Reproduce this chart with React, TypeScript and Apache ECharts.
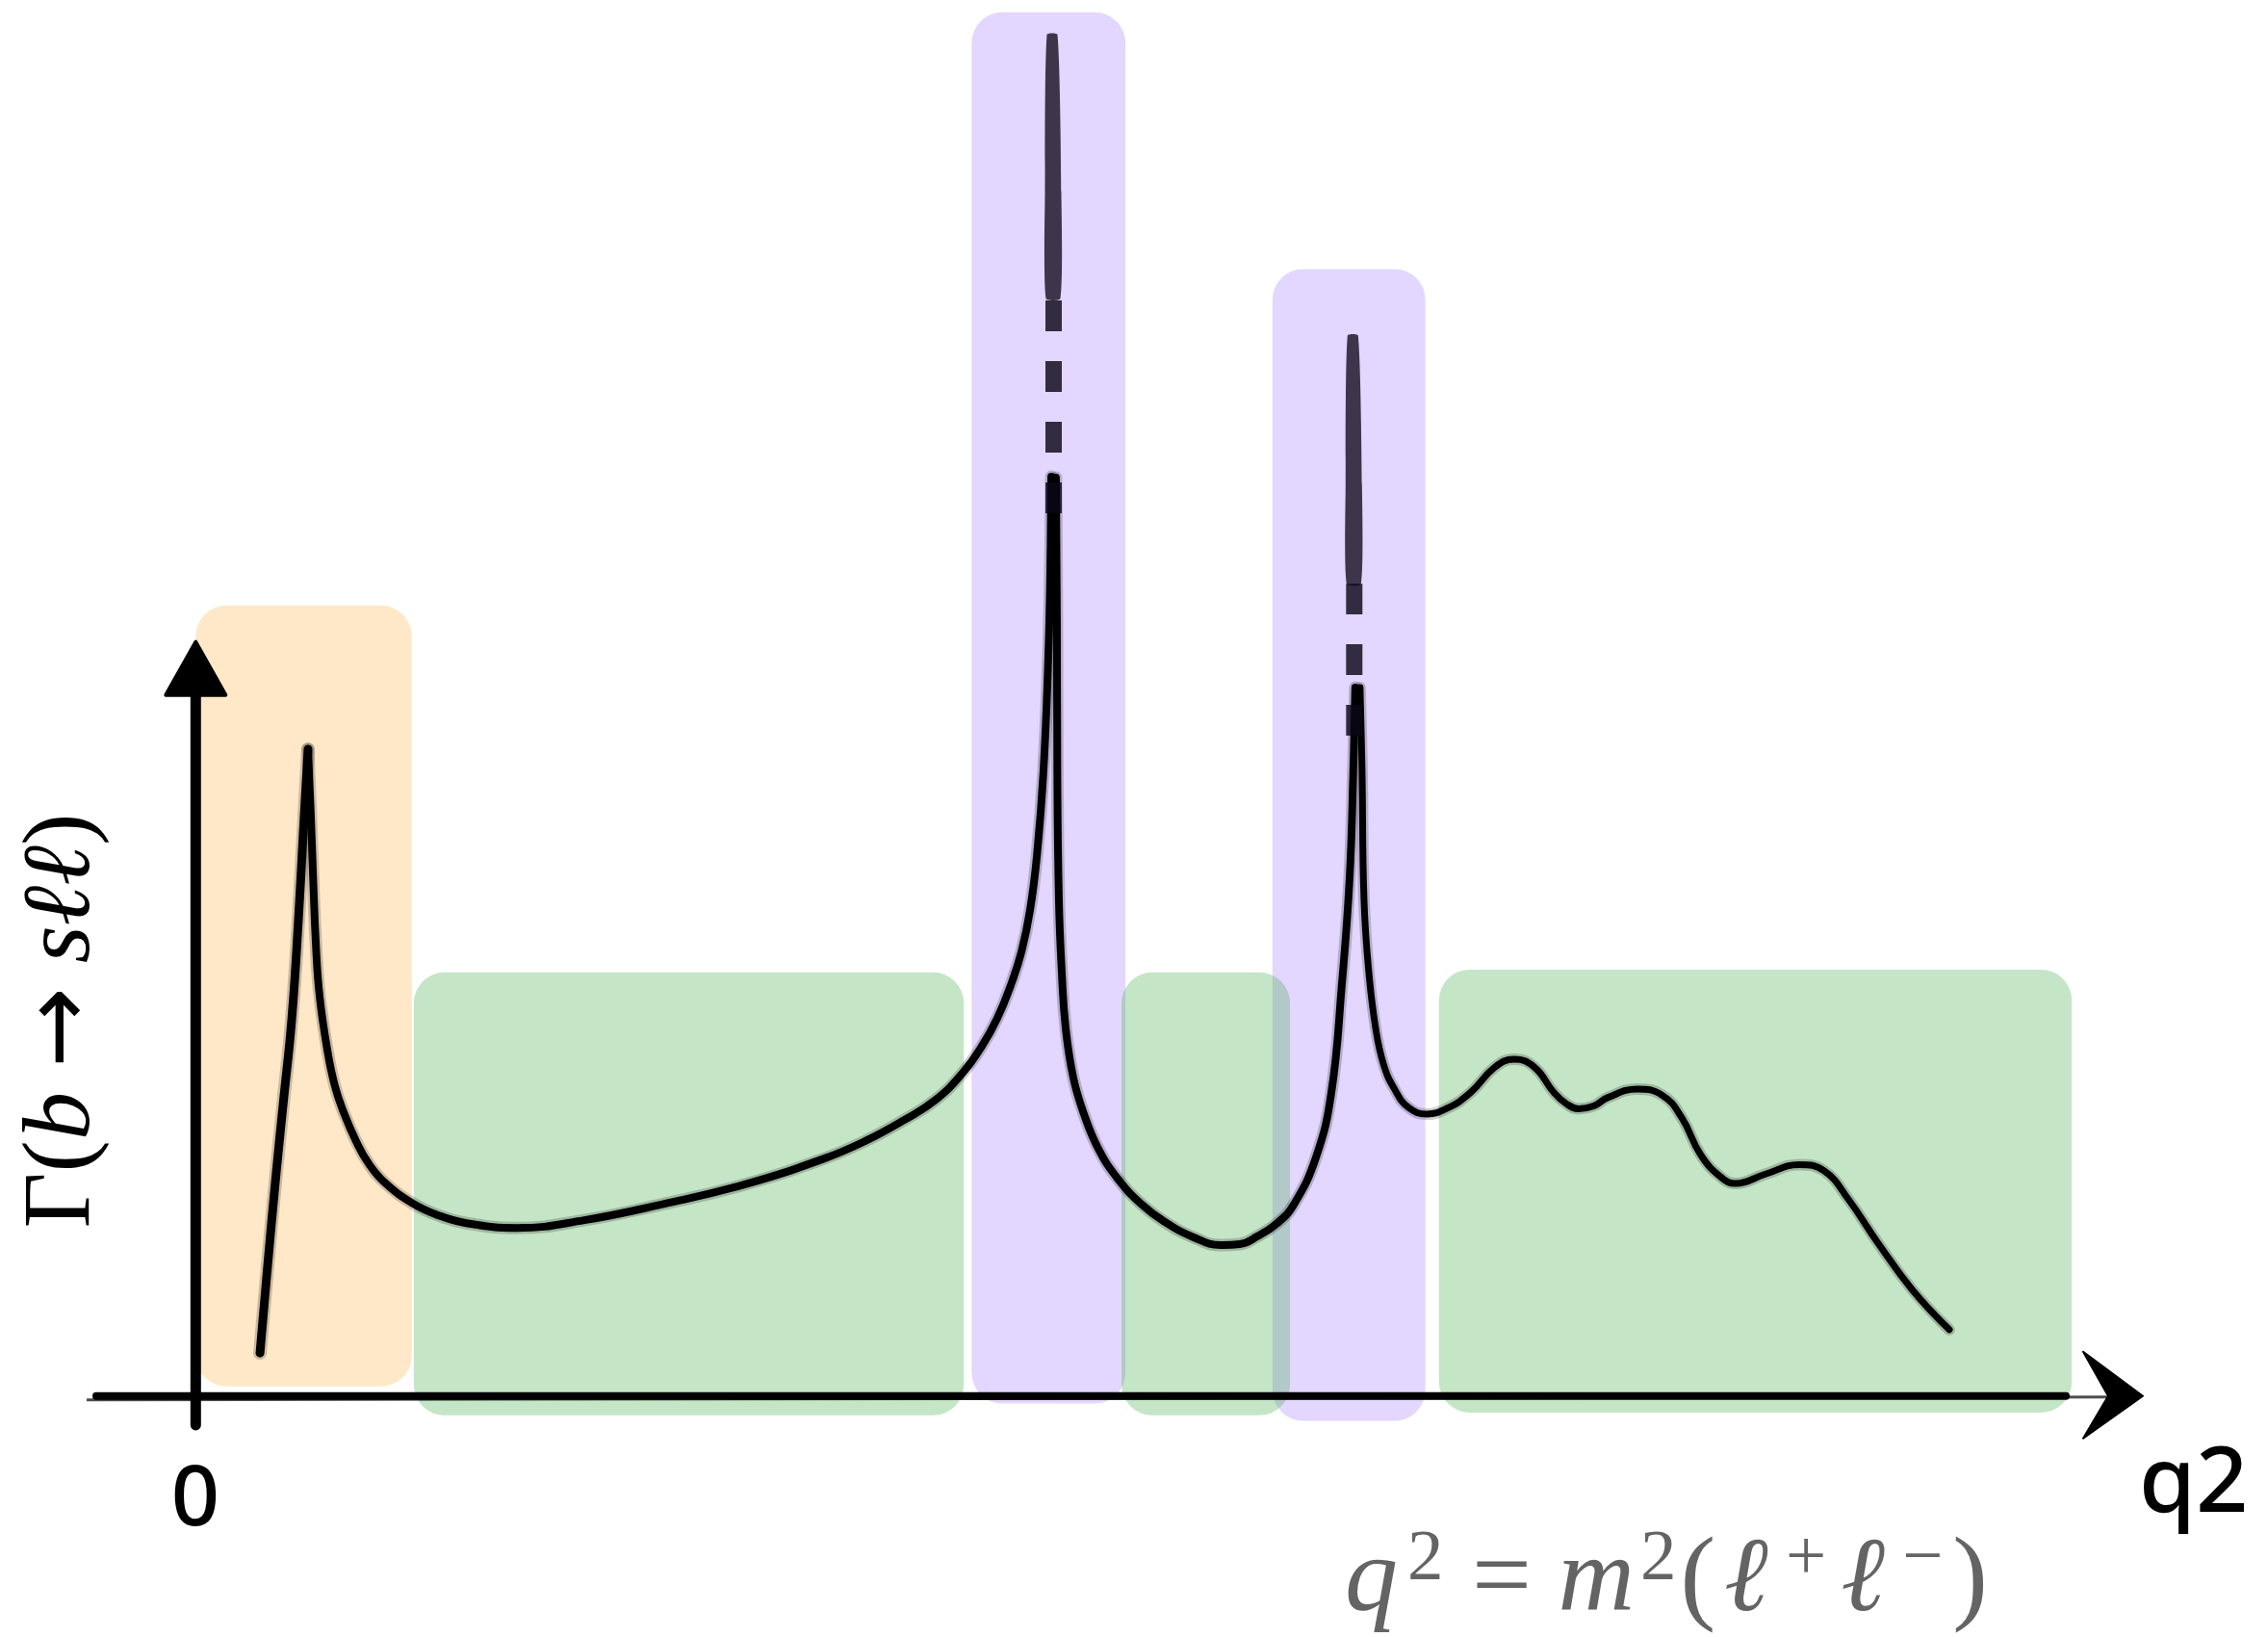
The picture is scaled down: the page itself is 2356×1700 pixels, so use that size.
import React, { useEffect, useRef } from "react";
import * as echarts from "echarts";

// Horizontal scale: q² in arbitrary units (0 on the vertical axis, 100 at the arrow tip).
// Vertical scale: differential rate in arbitrary units (0 on the horizontal axis).

// The rate curve, drawn as separate brush strokes that meet at the cusps.
const strokeRise: [number, number][] = [
  [3.3, 3.1], [3.7, 9.5], [4.1, 15.6], [4.5, 21.2], [4.93, 27.17], [5.27, 34.26], [5.52, 40.6], [5.77, 46.72],
];
const strokeToFirstResonance: [number, number][] = [
  [5.77, 46.72], [5.92, 41.71], [6.02, 37.82], [6.17, 32.67], [6.36, 28.92], [6.76, 25.0], [7.15, 22.37],
  [7.6, 20.48], [8.24, 18.39], [8.88, 16.79], [9.72, 15.4], [11.16, 13.9], [12.44, 13.06], [13.84, 12.5],
  [16.5, 12.14], [19.96, 12.7], [24.07, 13.88], [28.17, 15.27], [32.28, 17.15], [34.44, 18.45],
  [36.38, 19.93], [38.0, 21.39], [39.39, 23.34], [40.38, 25.28], [41.17, 27.3], [41.86, 29.67],
  [42.41, 32.1], [42.85, 35.1], [43.2, 39.0], [43.54, 45.19], [43.79, 53.53], [43.89, 59.8], [43.94, 66.4],
];
const strokeToSecondResonance: [number, number][] = [
  [44.18, 66.33], [44.23, 55.62], [44.25, 45.19], [44.33, 35.87], [44.48, 30.58], [44.68, 26.55],
  [45.07, 23.0], [45.62, 20.35], [46.36, 17.85], [47.35, 15.7], [48.54, 13.89], [49.77, 12.57],
  [51.25, 11.46], [52.63, 10.9], [53.62, 10.97], [54.51, 11.52], [55.55, 12.49], [56.39, 13.81],
  [57.53, 17.22], [58.32, 21.88], [58.86, 29.67], [59.26, 37.39], [59.45, 45.19], [59.55, 51.17],
];
const strokeTail: [number, number][] = [
  [59.8, 51.17], [59.9, 45.19], [60.0, 35.87], [60.25, 30.58], [60.6, 26.55], [61.0, 23.97],
  [61.54, 22.23], [62.28, 20.84], [63.22, 20.36], [64.3, 20.8], [65.49, 21.94], [66.72, 23.75],
  [67.71, 24.32], [68.75, 23.75], [69.74, 21.94], [70.4, 21.1], [71.02, 20.75], [71.8, 20.95],
  [72.51, 21.55], [74.04, 22.17], [75.33, 21.71], [76.31, 20.12], [77.3, 17.4], [78.34, 15.8],
  [79.08, 15.35], [80.62, 16.03], [82.35, 16.71], [83.63, 16.26], [84.87, 14.22], [86.4, 11.04],
  [88.18, 7.63], [90.06, 4.79],
];
const strokes = [strokeRise, strokeToFirstResonance, strokeToSecondResonance, strokeTail];
const strokeWidths = [9, 8, 8, 7];

// Narrow resonances: position, dashed cut-off segment and faded top.
const resonanceQ2 = [44.06, 59.5];
const resonanceDashFrom = [63.76, 47.7];
const resonanceDashTo = [79.27, 58.67];
const resonanceFadeTo = [98.33, 76.6];

// Shaded q² regions as [q²from, q²to, bottom, top].
const lowZones = [[0, 11.1, 0.7, 57.1]];
const resonanceZones = [
  [39.85, 47.75, -0.55, 99.95],
  [55.3, 63.15, -1.8, 81.4],
];
const smoothZones = [
  [11.2, 39.45, -1.4, 30.6],
  [47.55, 56.2, -1.4, 30.6],
  [63.85, 96.35, -1.2, 30.8],
];

// Axis extents.
const xAxisFrom = -5.6;
const xAxisTo = 100;
const yAxisFrom = -2.1;
const yAxisTo = 54.6;

// Texts.
const originLabel = "0";
const xAxisLabel = "q2";
const yAxisTitle = "{u|Γ(}{i|b}{u| }{a|→}{u| }{i|sℓℓ}{u|)}";
const q2Definition = "{v|q}{s|2}{o| = }{v|m}{t|2}{o|(}{l|ℓ}{p|+}{l|ℓ}{m|−}{o|)}";

const INK = "#000000";
const GREY = "#646464";
const SERIF = "Liberation Serif";

function zoneSeries(data: number[][], fill: string, z: number) {
  return {
    type: "custom",
    data,
    z,
    silent: true,
    clip: false,
    encode: { x: [0, 1], y: [2, 3] },
    renderItem: (_p: any, api: any) => {
      const a = api.coord([api.value(0), api.value(3)]);
      const b = api.coord([api.value(1), api.value(2)]);
      return {
        type: "rect",
        shape: { x: a[0], y: a[1], width: b[0] - a[0], height: b[1] - a[1], r: 32 },
        style: { fill },
      };
    },
  };
}

export default function App() {
  const ref = useRef<HTMLDivElement>(null);

  useEffect(() => {
    if (!ref.current) return;
    const chart = echarts.init(ref.current, undefined, { renderer: "svg" });

    const curveSeries: any[] = [];
    strokes.forEach((s, i) => {
      curveSeries.push({
        type: "line",
        data: s,
        z: 6,
        smooth: 0.45,
        showSymbol: false,
        silent: true,
        clip: false,
        lineStyle: { color: INK, width: strokeWidths[i] + 5, opacity: 0.2, cap: "round", join: "round" },
      });
      curveSeries.push({
        type: "line",
        data: s,
        z: 7,
        smooth: 0.45,
        showSymbol: false,
        silent: true,
        clip: false,
        lineStyle: { color: INK, width: strokeWidths[i], cap: "round", join: "round" },
      });
    });

    const dashSeries = resonanceQ2.map((q, i) => ({
      type: "line",
      data: [
        [q, resonanceDashFrom[i]],
        [q, resonanceDashTo[i]],
      ],
      z: 8,
      showSymbol: false,
      silent: true,
      clip: false,
      lineStyle: { color: "rgba(12,6,22,0.82)", width: 17, type: [32, 31], cap: "butt" },
    }));

    const fadeSeries = {
      type: "custom",
      z: 8,
      silent: true,
      clip: false,
      data: resonanceQ2.map((q, i) => [q, resonanceDashTo[i], resonanceFadeTo[i]]),
      renderItem: (_p: any, api: any) => {
        const b = api.coord([api.value(0), api.value(1)]);
        const t = api.coord([api.value(0), api.value(2)]);
        const midY = b[1] + (t[1] - b[1]) * 0.4;
        const cx = b[0] - 1;
        return {
          type: "polygon",
          shape: {
            points: [
              [cx - 7, b[1]],
              [cx + 8, b[1]],
              [cx + 9, midY],
              [cx + 5, t[1]],
              [cx - 6, t[1]],
              [cx - 8, midY],
            ],
            smooth: 0.2,
          },
          style: { fill: "rgba(20,12,30,0.8)" },
        };
      },
    };

    const axesSeries = {
      type: "custom",
      z: 5,
      silent: true,
      clip: false,
      data: [[0, 0]],
      renderItem: (_p: any, api: any) => {
        const xs = api.coord([xAxisFrom, 0]);
        const xe = api.coord([xAxisTo, 0]);
        const yb = api.coord([0, yAxisFrom]);
        const yt = api.coord([0, yAxisTo]);
        return {
          type: "group",
          children: [
            {
              type: "line",
              shape: { x1: xs[0] + 10, y1: xs[1], x2: xe[0] - 80, y2: xe[1] },
              style: { stroke: INK, lineWidth: 8, lineCap: "round" },
            },
            {
              type: "line",
              shape: { x1: xs[0], y1: xs[1] + 4, x2: xe[0] - 12, y2: xe[1] + 1 },
              style: { stroke: INK, lineWidth: 3, opacity: 0.7 },
            },
            {
              type: "line",
              shape: { x1: yb[0], y1: yb[1], x2: yt[0], y2: yt[1] + 50 },
              style: { stroke: INK, lineWidth: 11, lineCap: "round" },
            },
            {
              type: "polygon",
              shape: {
                points: [
                  [yt[0], yt[1] + 2],
                  [yt[0] - 31, yt[1] + 57],
                  [yt[0] + 31, yt[1] + 57],
                ],
              },
              style: { fill: INK, stroke: INK, lineWidth: 4, lineJoin: "round" },
            },
            {
              type: "polygon",
              shape: {
                points: [
                  [xe[0], xe[1]],
                  [xe[0] - 62, xe[1] - 46],
                  [xe[0] - 36, xe[1]],
                  [xe[0] - 62, xe[1] + 44],
                ],
              },
              style: { fill: INK, stroke: INK, lineWidth: 2, lineJoin: "round" },
            },
          ],
        };
      },
    };

    const option: any = {
      animation: false,
      backgroundColor: "#ffffff",
      grid: { left: 203.3, top: 12, width: 2022.7, height: 1437.7, containLabel: false },
      xAxis: { type: "value", min: 0, max: 100, show: false },
      yAxis: { type: "value", min: 0, max: 100, show: false },
      series: [
        zoneSeries(lowZones, "rgba(255,152,0,0.22)", 1),
        zoneSeries(resonanceZones, "rgba(153,102,255,0.27)", 2),
        zoneSeries(smoothZones, "rgba(76,175,80,0.32)", 3),
        axesSeries,
        fadeSeries,
        ...dashSeries,
        ...curveSeries,
      ],
      graphic: [
        {
          type: "text",
          x: 203,
          y: 1550,
          style: {
            text: originLabel,
            fontFamily: "Noto Sans",
            fontWeight: 500,
            fontSize: 88,
            fill: INK,
            align: "center",
            verticalAlign: "middle",
          },
        },
        {
          type: "text",
          x: 2222,
          y: 1533,
          style: {
            text: xAxisLabel,
            fontFamily: "Noto Sans",
            fontWeight: 500,
            fontSize: 95,
            fill: INK,
            align: "left",
            verticalAlign: "middle",
          },
        },
        {
          type: "text",
          x: 1397,
          y: 1577,
          style: {
            text: q2Definition,
            align: "left",
            verticalAlign: "top",
            rich: {
              v: { fontFamily: SERIF, fontStyle: "italic", fontSize: 110, lineHeight: 116, fill: GREY },
              l: { fontFamily: SERIF, fontStyle: "italic", fontSize: 110, lineHeight: 116, fill: GREY, padding: [0, 0, 0, 9] },
              o: { fontFamily: SERIF, fontSize: 110, lineHeight: 116, fill: GREY },
              s: { fontFamily: SERIF, fontSize: 75, lineHeight: 55, verticalAlign: "top", fill: GREY, padding: [0, 2, 0, 10] },
              t: { fontFamily: SERIF, fontSize: 75, lineHeight: 55, verticalAlign: "top", fill: GREY, padding: [0, 4, 0, 6] },
              p: { fontFamily: SERIF, fontSize: 75, lineHeight: 55, verticalAlign: "top", fill: GREY, padding: [0, 6, 0, 18] },
              m: { fontFamily: SERIF, fontSize: 75, lineHeight: 55, verticalAlign: "top", fill: GREY, padding: [0, 10, 0, 18] },
            },
          },
        },
        {
          type: "text",
          x: 58,
          y: 1060,
          rotation: Math.PI / 2,
          style: {
            text: yAxisTitle,
            align: "center",
            verticalAlign: "middle",
            rich: {
              u: { fontFamily: SERIF, fontSize: 100, lineHeight: 96, fill: INK },
              i: { fontFamily: SERIF, fontStyle: "italic", fontSize: 100, lineHeight: 96, fill: INK },
              a: { fontFamily: "DejaVu Sans", fontSize: 100, lineHeight: 96, fill: INK },
            },
          },
        },
      ],
    };

    chart.setOption(option);
    return () => chart.dispose();
  }, []);

  return (
    <div
      ref={ref}
      style={{ position: "absolute", left: 0, top: 0, width: 2356, height: 1700, background: "#ffffff" }}
    />
  );
}
